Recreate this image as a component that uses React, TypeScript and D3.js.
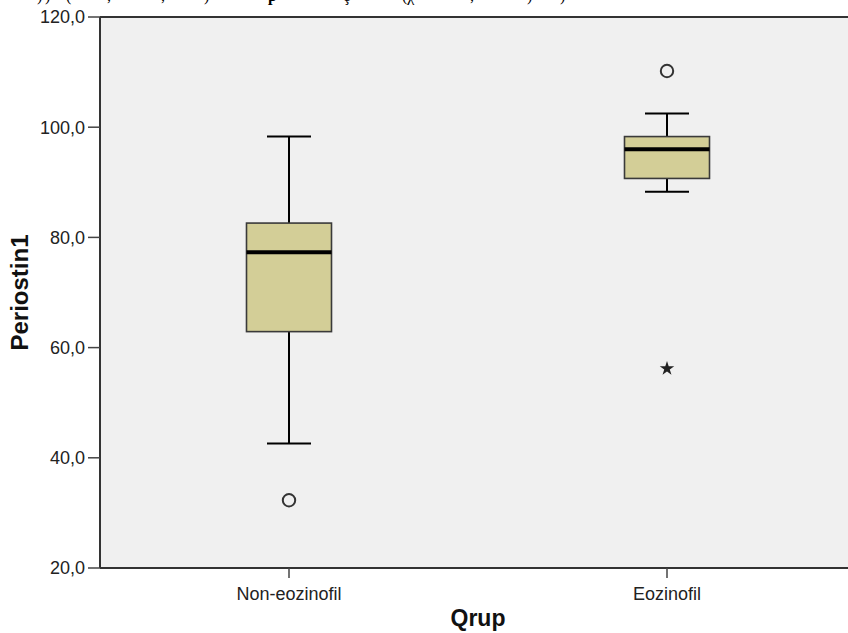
import React from "react";
import * as d3 from "d3";

const categories = ["Non-eozinofil", "Eozinofil"];
const whiskerLow = [42.6, 88.3];
const q1 = [62.9, 90.7];
const median = [77.3, 96.0];
const q3 = [82.6, 98.3];
const whiskerHigh = [98.3, 102.5];
const outlierGroups = [0, 1];
const outlierValues = [32.3, 110.2];
const extremeGroups = [1];
const extremeValues = [56.2];
const yTicks = [20, 40, 60, 80, 100, 120];
const captionFragments = [")", ")", "(", ",", ",", ")", "p", "ç", "(χ", ",", ")", ")"];

const W = 848;
const H = 633;
const left = 100;
const top = 17;
const bottom = 568;
const plotRight = 856;

export default function App() {
  const y = d3.scaleLinear().domain([20, 120]).range([bottom, top]);
  const x = d3.scalePoint<string>().domain(categories).range([left, plotRight]).padding(0.5);
  const fmt = (v: number) => d3.format(".1f")(v).replace(".", ",");
  const boxW = 85;
  const capW = 44;
  const star = d3.symbol().type(d3.symbolStar).size(65)();
  const captionX = [37, 45, 66, 107, 161, 204, 268, 343, 402, 470, 527, 560];
  const font = "'Liberation Sans', Arial, sans-serif";

  return (
    <svg width={W} height={H} style={{ position: "absolute", left: 0, top: 0, background: "#fff" }}>
      <g fontFamily="'Liberation Serif', 'Times New Roman', serif" fontSize={16} fill="#000">
        {captionFragments.map((c, i) => (
          <text key={i} x={captionX[i]} y={0.5} fontWeight={c === "p" ? "bold" : "normal"}>{c}</text>
        ))}
      </g>
      <rect x={left} y={top} width={W - left} height={bottom - top} fill="#f0f0f0" />
      <line x1={left} x2={W} y1={top} y2={top} stroke="#333" strokeWidth={2} />
      {categories.map((c, i) => {
        const cx = x(c)!;
        return (
          <g key={c}>
            <line x1={cx} x2={cx} y1={y(whiskerHigh[i])} y2={y(q3[i])} stroke="#000" strokeWidth={2} />
            <line x1={cx} x2={cx} y1={y(q1[i])} y2={y(whiskerLow[i])} stroke="#000" strokeWidth={2} />
            <line x1={cx - capW / 2} x2={cx + capW / 2} y1={y(whiskerHigh[i])} y2={y(whiskerHigh[i])} stroke="#000" strokeWidth={2} />
            <line x1={cx - capW / 2} x2={cx + capW / 2} y1={y(whiskerLow[i])} y2={y(whiskerLow[i])} stroke="#000" strokeWidth={2} />
            <rect x={cx - boxW / 2} y={y(q3[i])} width={boxW} height={y(q1[i]) - y(q3[i])} fill="#d3ce97" stroke="#3a3a3a" strokeWidth={1.6} />
            <line x1={cx - boxW / 2} x2={cx + boxW / 2} y1={y(median[i])} y2={y(median[i])} stroke="#000" strokeWidth={4} />
          </g>
        );
      })}
      {outlierValues.map((v, i) => (
        <circle key={i} cx={x(categories[outlierGroups[i]])!} cy={y(v)} r={6.2} fill="none" stroke="#333" strokeWidth={2} />
      ))}
      {extremeValues.map((v, i) => (
        <path key={i} d={star!} transform={`translate(${x(categories[extremeGroups[i]])},${y(v)})`} fill="#222" />
      ))}
      <line x1={left} x2={left} y1={top} y2={bottom} stroke="#333" strokeWidth={2} />
      <line x1={left} x2={W} y1={bottom} y2={bottom} stroke="#333" strokeWidth={2} />
      {yTicks.map((t) => (
        <g key={t}>
          <line x1={left - 12} x2={left} y1={y(t)} y2={y(t)} stroke="#444" strokeWidth={1.5} />
          <text x={left - 15} y={y(t)} dy="0.36em" textAnchor="end" fontFamily={font} fontSize={18} fill="#222">{fmt(t)}</text>
        </g>
      ))}
      {categories.map((c) => (
        <g key={c}>
          <line x1={x(c)!} x2={x(c)!} y1={bottom} y2={bottom + 10} stroke="#444" strokeWidth={1.5} />
          <text x={x(c)!} y={600} textAnchor="middle" fontFamily={font} fontSize={18} fill="#222">{c}</text>
        </g>
      ))}
      <text x={(left + plotRight) / 2} y={626} textAnchor="middle" fontFamily={font} fontSize={23} fontWeight="bold" fill="#111">Qrup</text>
      <text transform={`translate(28,${(top + bottom) / 2}) rotate(-90)`} textAnchor="middle" fontFamily={font} fontSize={24} fontWeight="bold" fill="#111">Periostin1</text>
    </svg>
  );
}
